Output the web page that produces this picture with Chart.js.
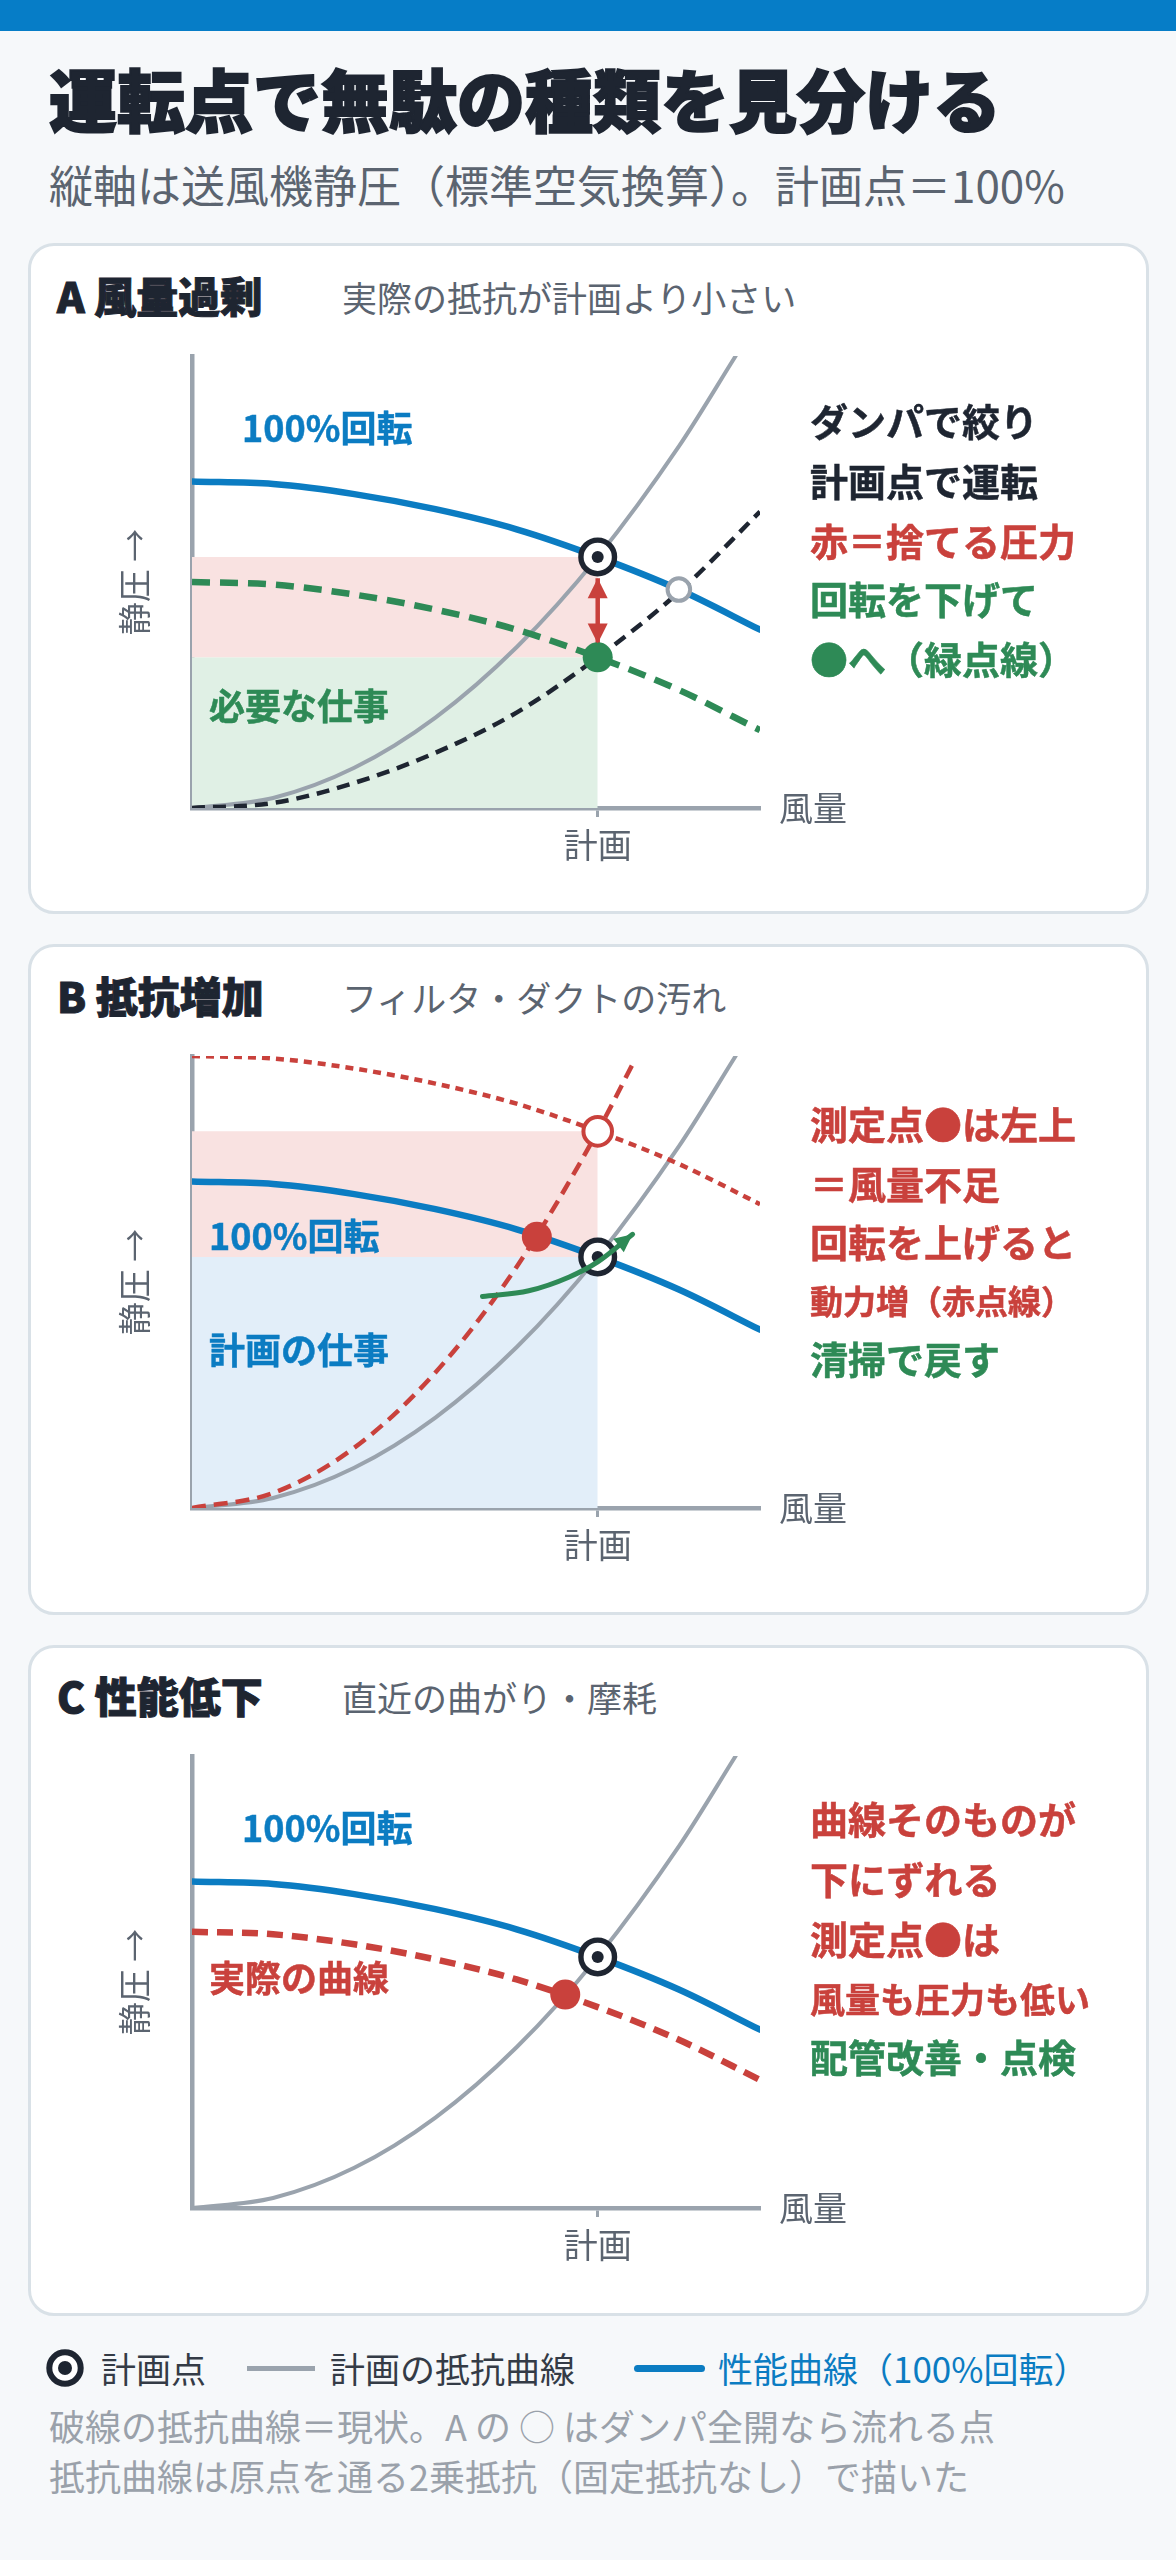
<!DOCTYPE html>
<html lang="ja">
<head>
<meta charset="utf-8">
<title>運転点で無駄の種類を見分ける</title>
<script src="https://cdn.jsdelivr.net/npm/chart.js@4.4.1/dist/chart.umd.min.js"></script>
<style>
  html, body { margin: 0; padding: 0; }
  body {
    width: 1176px; height: 2560px; position: relative; overflow: hidden;
    background: #f6f8fa;
    font-family: "Noto Sans CJK JP", "Noto Sans", sans-serif;
  }
  .abs { position: absolute; line-height: 1; white-space: nowrap; }
  .topbar { position: absolute; left: 0; top: 0; width: 1176px; height: 31px; background: #067dc7; }
  .title { left: 49px; top: 64px; font-size: 68px; font-weight: 900; color: #1e2531; -webkit-text-stroke: 2px #1e2531; }
  .subtitle { left: 49px; top: 162px; font-size: 44px; color: #5b6470; }
  .card {
    position: absolute; left: 28px; width: 1121px; height: 671px; box-sizing: border-box;
    background: #fff; border: 3px solid #d9e1e7; border-radius: 26px;
  }
  .head { left: 57px; font-size: 42px; font-weight: 900; color: #1e2531; -webkit-text-stroke: 1px #1e2531; }
  .headsub { left: 342px; font-size: 35px; color: #5b6470; }
  .rt { left: 810px; font-size: 38px; font-weight: 700; z-index: 3; -webkit-text-stroke: 0.5px currentColor; }
  .lab { font-size: 36px; font-weight: 700; z-index: 3; -webkit-text-stroke: 0.5px currentColor; }
  canvas.panel { position: absolute; left: 60px; width: 820px; height: 560px; z-index: 2; }
  .leg { top: 2350px; font-size: 35px; color: #343b46; }
  .note { left: 49px; font-size: 36px; color: #9aa1aa; }
</style>
</head>
<body>
<div class="topbar"></div>
<div class="abs title">運転点で無駄の種類を見分ける</div>
<div class="abs subtitle">縦軸は送風機静圧（標準空気換算）。計画点＝100%</div>

<!-- A -->
<div class="card" style="top:243px"></div>
<div class="abs head" style="top:274px">A 風量過剰</div>
<div class="abs headsub" style="top:279px">実際の抵抗が計画より小さい</div>
<canvas class="panel" id="chartA" width="820" height="560" style="top:320px"></canvas>
<div class="abs lab" style="left:242px;top:408px;color:#0b7cc2">100%回転</div>
<div class="abs lab" style="left:209px;top:686px;color:#2e8a56">必要な仕事</div>
<div class="abs rt" style="top:401px;color:#1e2531">ダンパで絞り</div>
<div class="abs rt" style="top:461px;color:#1e2531">計画点で運転</div>
<div class="abs rt" style="top:521px;color:#c9413c">赤＝捨てる圧力</div>
<div class="abs rt" style="top:579px;color:#2e8a56">回転を下げて</div>
<div class="abs rt" style="top:639px;color:#2e8a56">●へ（緑点線）</div>

<!-- B -->
<div class="card" style="top:944px"></div>
<div class="abs head" style="top:974px">B 抵抗増加</div>
<div class="abs headsub" style="top:979px">フィルタ・ダクトの汚れ</div>
<canvas class="panel" id="chartB" width="820" height="560" style="top:1020px"></canvas>
<div class="abs lab" style="left:209px;top:1216px;color:#0b7cc2">100%回転</div>
<div class="abs lab" style="left:209px;top:1330px;color:#0b7cc2">計画の仕事</div>
<div class="abs rt" style="top:1104px;color:#c9413c">測定点●は左上</div>
<div class="abs rt" style="top:1164px;color:#c9413c">＝風量不足</div>
<div class="abs rt" style="top:1222px;color:#c9413c">回転を上げると</div>
<div class="abs rt" style="top:1284px;color:#c9413c;font-size:33px">動力増（赤点線）</div>
<div class="abs rt" style="top:1339px;color:#2e8a56">清掃で戻す</div>

<!-- C -->
<div class="card" style="top:1645px"></div>
<div class="abs head" style="top:1674px">C 性能低下</div>
<div class="abs headsub" style="top:1679px">直近の曲がり・摩耗</div>
<canvas class="panel" id="chartC" width="820" height="560" style="top:1720px"></canvas>
<div class="abs lab" style="left:242px;top:1808px;color:#0b7cc2">100%回転</div>
<div class="abs lab" style="left:209px;top:1958px;color:#c9413c">実際の曲線</div>
<div class="abs rt" style="top:1799px;color:#c9413c">曲線そのものが</div>
<div class="abs rt" style="top:1859px;color:#c9413c">下にずれる</div>
<div class="abs rt" style="top:1919px;color:#c9413c">測定点●は</div>
<div class="abs rt" style="top:1980px;color:#c9413c;font-size:35px">風量も圧力も低い</div>
<div class="abs rt" style="top:2037px;color:#2e8a56">配管改善・点検</div>

<!-- legend -->
<svg style="position:absolute;left:44px;top:2347px" width="42" height="42">
  <circle cx="21" cy="21" r="15.7" fill="#fff" stroke="#1e2531" stroke-width="6"/>
  <circle cx="21" cy="21" r="7" fill="#1e2531"/>
</svg>
<div class="abs leg" style="left:101px">計画点</div>
<div style="position:absolute;left:247px;top:2366px;width:68px;height:5px;background:#9aa3ad"></div>
<div class="abs leg" style="left:330px">計画の抵抗曲線</div>
<div style="position:absolute;left:634px;top:2365px;width:71px;height:7px;border-radius:3.5px;background:#0b7cc2"></div>
<div class="abs leg" style="left:718px;color:#0b7cc2">性能曲線（100%回転）</div>
<div class="abs note" style="top:2407px">破線の抵抗曲線＝現状。A の ○ はダンパ全開なら流れる点</div>
<div class="abs note" style="top:2457px">抵抗曲線は原点を通る2乗抵抗（固定抵抗なし）で描いた</div>

<script>
// Axis ranges (flow and static pressure, plan point = 1)
const flowMax = 1.4
const pressureMax = 1.8
const flowTicks = [1]
const flowTickLabels = ["計画"]

// Fan curves
const fanFlow = [0, 0.2, 0.4, 0.6, 0.8, 1.0, 1.2, 1.4]
const fan100 = [1.30, 1.29, 1.25, 1.19, 1.11, 1.00, 0.87, 0.71]
const fanSlowA = [0.90, 0.89, 0.85, 0.79, 0.71, 0.60, 0.47, 0.31]
const fanFastB = [1.80, 1.79, 1.75, 1.69, 1.61, 1.50, 1.37, 1.21]
const fanWornC = [1.10, 1.09, 1.05, 0.99, 0.91, 0.80, 0.67, 0.51]

// System resistance curves
const planSysFlow = [0, 0.2, 0.4, 0.6, 0.8, 1.0, 1.2, 1.34]
const planSys = [0, 0.04, 0.16, 0.36, 0.64, 1.00, 1.44, 1.80]
const sysAFlow = [0, 0.2, 0.4, 0.6, 0.8, 1.0, 1.2, 1.4]
const sysA = [0, 0.02, 0.10, 0.22, 0.38, 0.60, 0.86, 1.18]
const sysBFlow = [0, 0.2, 0.4, 0.6, 0.8, 1.0, 1.09]
const sysB = [0, 0.06, 0.24, 0.54, 0.96, 1.50, 1.78]

// Operating points [flow, pressure]
const planPoint = [1.0, 1.0]
const slowPointA = [1.0, 0.60]
const openPointA = [1.20, 0.87]
const measPointB = [0.85, 1.08]
const fastPointB = [1.0, 1.50]
const measPointC = [0.92, 0.85]

// Shaded bands [from, to] in pressure, up to plan flow
const wasteBandA = [0.60, 1.00]
const workBandA = [0, 0.60]
const wasteBandB = [1.00, 1.50]
const workBandB = [0, 1.00]

// Arrows
const wasteArrowFlow = [1.0, 1.0]
const wasteArrowPress = [0.915, 0.655]
const cleanArrowFlow = [0.716, 0.83, 0.93, 1.0, 1.086]
const cleanArrowPress = [0.842, 0.865, 0.92, 0.98, 1.09]

// Colors
const C_BLUE = "#0b7cc2"
const C_RED = "#c9413c"
const C_GREEN = "#2e8a56"
const C_DARK = "#1e2531"
const C_AXIS = "#9aa3ad"
const C_LABEL = "#5b6470"

Chart.defaults.font.family = '"Noto Sans CJK JP", "Noto Sans", sans-serif'

function xy(xs, ys) {
  return xs.map((x, i) => ({ x: x, y: ys[i] }))
}

function curve(data, color, width, dash, order) {
  return {
    data: data,
    borderColor: color,
    borderWidth: width,
    borderDash: dash || [],
    borderCapStyle: dash ? "butt" : "round",
    pointRadius: 0,
    fill: false,
    order: order,
  }
}

function band(range, color) {
  return {
    data: xy([0, planPoint[0]], [range[1], range[1]]),
    borderColor: "transparent",
    borderWidth: 0,
    pointRadius: 0,
    backgroundColor: color,
    fill: { value: range[0] },
    order: 20,
  }
}

function marker(p, radius, fill, stroke, bw, order) {
  return {
    data: [{ x: p[0], y: p[1] }],
    showLine: false,
    pointStyle: "circle",
    pointRadius: radius,
    pointBackgroundColor: fill,
    pointBorderColor: stroke,
    pointBorderWidth: bw,
    order: order,
  }
}

function planMarker() {
  return [
    marker(planPoint, 16.8, "#ffffff", C_DARK, 5.4, 1),
    marker(planPoint, 6, C_DARK, C_DARK, 0, 0),
  ]
}

// Arrow heads for datasets that carry a "heads" list
const arrowHeads = {
  id: "arrowHeads",
  afterDatasetsDraw(chart) {
    const ctx = chart.ctx
    chart.data.datasets.forEach((ds, i) => {
      if (!ds.heads) return
      const pts = chart.getDatasetMeta(i).data
      ds.heads.forEach((end) => {
        let tip, from
        if (end === "start") {
          tip = pts[0]
          from = pts[1]
        } else {
          tip = pts[pts.length - 1]
          from = pts[pts.length - 2]
          if (tip.cp1x !== undefined && Math.hypot(tip.cp1x - tip.x, tip.cp1y - tip.y) > 1) {
            from = { x: tip.cp1x, y: tip.cp1y }
          }
        }
        const ang = Math.atan2(tip.y - from.y, tip.x - from.x)
        const len = ds.headLength
        const half = ds.headWidth / 2
        ctx.save()
        ctx.translate(tip.x, tip.y)
        ctx.rotate(ang)
        ctx.beginPath()
        ctx.moveTo(0, 0)
        ctx.lineTo(-len, -half)
        ctx.lineTo(-len, half)
        ctx.closePath()
        ctx.fillStyle = ds.borderColor
        ctx.fill()
        ctx.restore()
      })
    })
  },
}

// "風量" label at the end of the x axis
const flowLabel = {
  id: "flowLabel",
  afterDraw(chart) {
    const { ctx, chartArea, scales } = chart
    ctx.save()
    ctx.font = '34px "Noto Sans CJK JP", sans-serif'
    ctx.fillStyle = C_LABEL
    ctx.textBaseline = "middle"
    ctx.textAlign = "left"
    ctx.fillText("風量", chartArea.right + 19, scales.x.top)
    ctx.restore()
  },
}

function buildPanel(canvasId, datasets) {
  const ctx = document.getElementById(canvasId)
  if (!ctx) return null

  return new Chart(ctx, {
    type: "line",
    data: { datasets: datasets },
    options: {
      responsive: false,
      animation: false,
      events: [],
      layout: { padding: { left: 50, top: 36, right: 120, bottom: 0 } },
      elements: {
        line: { cubicInterpolationMode: "monotone" },
        point: { radius: 0 },
      },
      plugins: {
        legend: { display: false },
        tooltip: { enabled: false },
      },
      scales: {
        x: {
          type: "linear",
          min: 0,
          max: flowMax,
          afterBuildTicks: (axis) => {
            axis.ticks = flowTicks.map((v) => ({ value: v }))
          },
          afterFit: (scale) => {
            scale.height = 72
          },
          ticks: {
            callback: (value, index) => flowTickLabels[index],
            color: C_LABEL,
            font: { size: 34 },
            padding: 8,
            maxRotation: 0,
            autoSkip: false,
          },
          grid: {
            display: true,
            drawOnChartArea: false,
            drawTicks: true,
            tickLength: 9,
            tickWidth: 3,
            tickColor: C_AXIS,
          },
          border: { display: true, color: C_AXIS, width: 4.5 },
        },
        y: {
          type: "linear",
          min: 0,
          max: pressureMax,
          afterFit: (scale) => {
            scale.width = 82
          },
          ticks: { display: false },
          grid: { display: false },
          border: { display: true, color: C_AXIS, width: 4.5 },
          title: {
            display: true,
            text: "静圧 →",
            color: C_LABEL,
            font: { size: 33 },
            padding: { top: 5, bottom: 0 },
          },
        },
      },
    },
    plugins: [arrowHeads, flowLabel],
  })
}

// A: too much air, damper throttled
function initializePanelA() {
  const wasteArrow = curve(xy(wasteArrowFlow, wasteArrowPress), C_RED, 4.5, null, 3)
  wasteArrow.borderCapStyle = "butt"
  wasteArrow.heads = ["start", "end"]
  wasteArrow.headLength = 20
  wasteArrow.headWidth = 20

  buildPanel("chartA", [
    band(wasteBandA, "#f9e2e1"),
    band(workBandA, "#e0f0e5"),
    curve(xy(planSysFlow, planSys), C_AXIS, 4, null, 8),
    curve(xy(sysAFlow, sysA), C_DARK, 4.5, [13, 8], 7),
    curve(xy(fanFlow, fanSlowA), C_GREEN, 6.5, [18, 10], 6),
    curve(xy(fanFlow, fan100), C_BLUE, 6.5, null, 5),
    wasteArrow,
    marker(openPointA, 11.3, "#ffffff", C_AXIS, 4, 2),
    marker(slowPointA, 15, C_GREEN, C_GREEN, 0, 2),
    ...planMarker(),
  ])
}

// B: resistance increased (dirty filter / duct)
function initializePanelB() {
  const cleanArrow = curve(xy(cleanArrowFlow, cleanArrowPress), C_GREEN, 5, null, -1)
  cleanArrow.heads = ["end"]
  cleanArrow.headLength = 18
  cleanArrow.headWidth = 17

  buildPanel("chartB", [
    band(wasteBandB, "#f9e2e1"),
    band(workBandB, "#e2eef9"),
    curve(xy(planSysFlow, planSys), C_AXIS, 4, null, 8),
    curve(xy(sysBFlow, sysB), C_RED, 4.5, [14, 8], 7),
    curve(xy(fanFlow, fanFastB), C_RED, 4.5, [8, 6], 6),
    curve(xy(fanFlow, fan100), C_BLUE, 6.5, null, 5),
    cleanArrow,
    marker(measPointB, 15, C_RED, C_RED, 0, 2),
    marker(fastPointB, 14.3, "#ffffff", C_RED, 4, 2),
    ...planMarker(),
  ])
}

// C: fan performance dropped
function initializePanelC() {
  buildPanel("chartC", [
    curve(xy(planSysFlow, planSys), C_AXIS, 4, null, 8),
    curve(xy(fanFlow, fanWornC), C_RED, 6.5, [16, 9], 6),
    curve(xy(fanFlow, fan100), C_BLUE, 6.5, null, 5),
    marker(measPointC, 15, C_RED, C_RED, 0, 2),
    ...planMarker(),
  ])
}

initializePanelA()
initializePanelB()
initializePanelC()
</script>
</body>
</html>
